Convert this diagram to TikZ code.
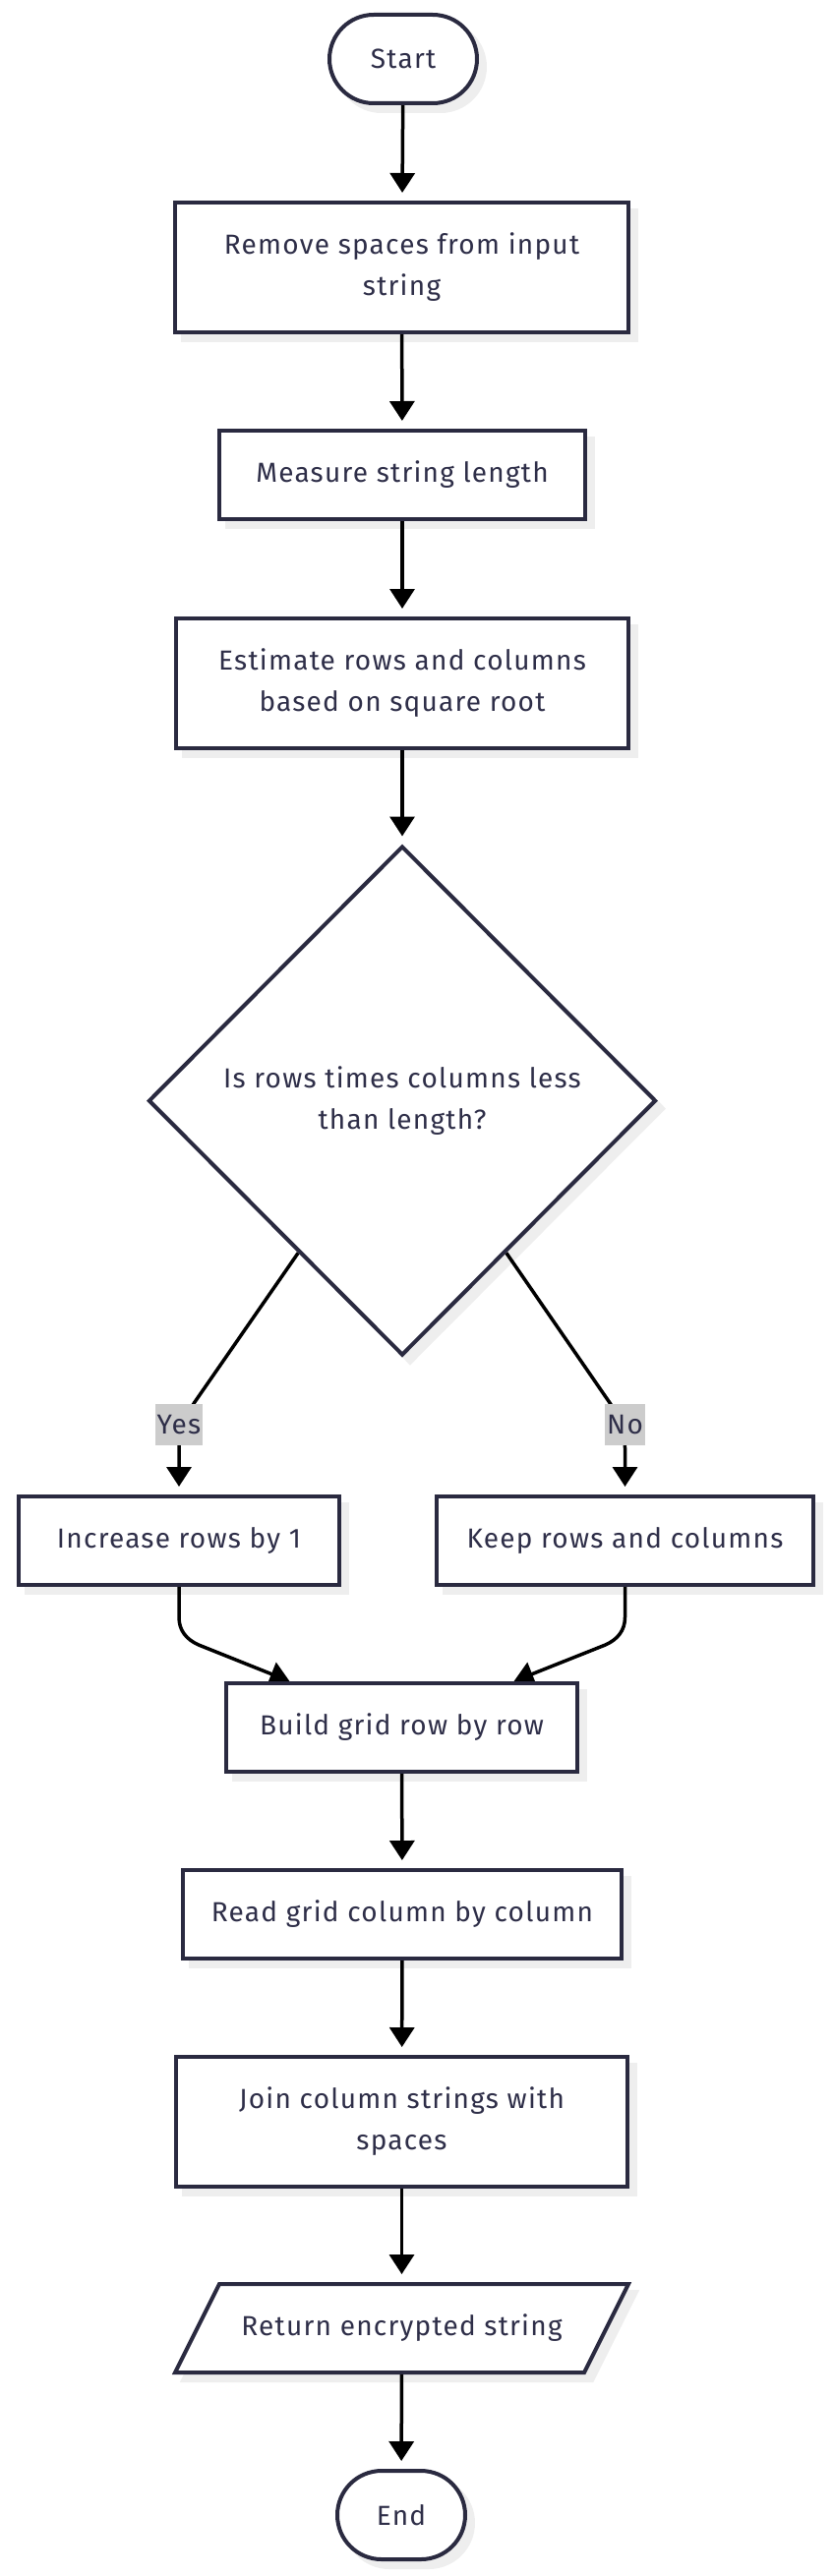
\documentclass[tikz,border=0pt]{standalone}
\usepackage{fontspec}
\setmainfont{Fira Sans}[LetterSpace=4.5]
\usetikzlibrary{arrows.meta,shapes.geometric,calc}
\definecolor{bordc}{HTML}{2A2A40}
\definecolor{txtc}{HTML}{2E2E48}
\definecolor{shc}{HTML}{EEEEEE}
\definecolor{lblc}{HTML}{CCCCCC}
\pgfdeclarelayer{shadow}
\pgfdeclarelayer{edges}
\pgfsetlayers{shadow,edges,main}
\newcommand\mainfs{\fontsize{28}{42}\selectfont}
\tikzset{
  nd/.style={draw=bordc,line width=4pt,fill=white,text=txtc,font=\mainfs,align=center,inner sep=0pt},
  procbox/.style={nd,rectangle},
  term/.style={nd,rectangle,rounded corners=45pt},
  dec/.style={nd,diamond,aspect=1},
  shad/.style={fill=shc,draw=shc},
  outl/.style={draw=bordc,line width=4pt,fill=white},
  edge/.style={draw=black,line width=3.5pt,-{Triangle[length=20pt,width=25pt]}},
  vedge/.style={edge,shorten >=8pt},
  lbl/.style={fill=lblc,text=txtc,font=\mainfs,inner sep=2pt,minimum height=42pt}
}
\newcommand\mk[5]{%
  \node[#2,#4] (#1) at (#3) {#5};
  \begin{pgfonlayer}{shadow}\node[#2,#4,shad] at ($(#3)+(8,-8)$) {};\end{pgfonlayer}}
\begin{document}
\begin{tikzpicture}[x=1pt,y=1pt]
\useasboundingbox (0,0) rectangle (846,-2620);
\mk{start}{term}{410,-60}{minimum width=150pt,minimum height=90pt}{Start}
\mk{rem}{procbox}{408.5,-272}{minimum width=461pt,minimum height=132pt}{Remove spaces from input\\string}
\mk{meas}{procbox}{409,-483}{minimum width=372pt,minimum height=90pt}{Measure string length}
\mk{est}{procbox}{409,-695}{minimum width=460pt,minimum height=132pt}{Estimate rows and columns\\based on square root}
\mk{dia}{dec}{409,-1119.5}{minimum width=516pt,minimum height=518pt}{Is rows times columns less\\than length?}
\mk{inc}{procbox}{182,-1567}{minimum width=326pt,minimum height=90pt}{Increase rows by 1}
\mk{keep}{procbox}{635.5,-1567}{minimum width=383pt,minimum height=90pt}{Keep rows and columns}
\mk{build}{procbox}{408.5,-1757}{minimum width=357pt,minimum height=90pt}{Build grid row by row}
\mk{read}{procbox}{409,-1947}{minimum width=446pt,minimum height=90pt}{Read grid column by column}
\mk{join}{procbox}{408.5,-2158}{minimum width=459pt,minimum height=132pt}{Join column strings with\\spaces}
\coordinate (retc) at (408.5,-2368);
\begin{pgfonlayer}{shadow}
\filldraw[shc,line width=4pt] ($(retc)+(8,-8)$) ++(-185.5,45) -- ++(416,0) -- ++(-45,-90) -- ++(-416,0) -- cycle;
\end{pgfonlayer}
\draw[outl] (retc) ++(-185.5,45) -- ++(416,0) -- ++(-45,-90) -- ++(-416,0) -- cycle;
\node[nd,draw=none,fill=none,minimum width=416pt,minimum height=90pt] (ret) at (retc) {Return encrypted string};
\mk{end}{term}{408,-2558}{minimum width=130pt,minimum height=90pt}{End}
\coordinate (ys) at ($(dia.west)!0.593!(dia.south)$);
\coordinate (ns) at ($(dia.south)!0.407!(dia.east)$);
\begin{pgfonlayer}{edges}
\draw[vedge] (start) -- (rem);
\draw[vedge] (rem) -- (meas);
\draw[vedge] (meas) -- (est);
\draw[vedge] (est) -- (dia);
\draw[vedge] (ys) -- ($(inc.north)+(16,94)$) .. controls ($(inc.north)+(4,76)$) and ($(inc.north)+(0,67)$) .. ($(inc.north)+(0,47)$) -- (inc.north);
\draw[vedge] (ns) -- ($(keep.north)+(-16,94)$) .. controls ($(keep.north)+(-4,76)$) and ($(keep.north)+(0,67)$) .. ($(keep.north)+(0,47)$) -- (keep.north);
\draw[edge] (inc.south) -- ++(0,-31) to[out=-90,in=156] ++(20,-28) -- ($(build.north)+(-114,0)$);
\draw[edge] (keep.south) -- ++(0,-31) to[out=-90,in=24] ++(-20,-28) -- ($(build.north)+(114,0)$);
\draw[vedge] (build) -- (read);
\draw[vedge] (read) -- (join);
\draw[vedge] (join) -- (ret);
\draw[vedge] (ret) -- (end);
\end{pgfonlayer}
\node[lbl] (yes) at ($(inc.north)+(0,71)$) {Yes};
\node[lbl] (no) at ($(keep.north)+(0,71)$) {No};
\end{tikzpicture}
\end{document}
